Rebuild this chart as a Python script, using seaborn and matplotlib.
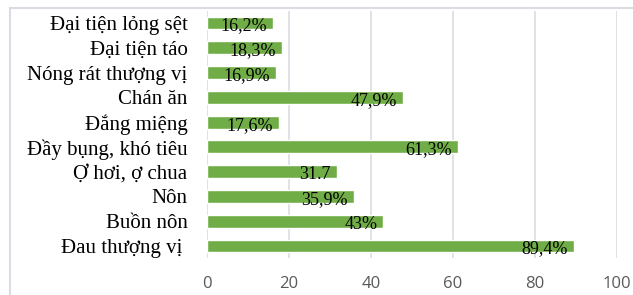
import pandas as pd
import seaborn as sns
import matplotlib.pyplot as plt
from matplotlib.patches import Rectangle

# symptoms, top to bottom as drawn
symptoms = ['Đại tiện lỏng sệt', 'Đại tiện táo', 'Nóng rát thượng vị', 'Chán ăn',
            'Đắng miệng', 'Đầy bụng, khó tiêu', 'Ợ hơi, ợ chua', 'Nôn',
            'Buồn nôn', 'Đau thượng vị ']
percent = [16.2, 18.3, 16.9, 47.9, 17.6, 61.3, 31.7, 35.9, 43, 89.4]
value_labels = ['16,2%', '18,3%', '16,9%', '47,9%', '17,6%', '61,3%', '31.7', '35,9%', '43%', '89,4%']
xticks = [0, 20, 40, 60, 80, 100]

df = pd.DataFrame({'symptom': symptoms, 'percent': percent})

sns.set_style('white')
plt.rcParams['font.family'] = ['Liberation Serif', 'DejaVu Serif']

fig = plt.figure(figsize=(6.33, 2.95), dpi=100)
ax = fig.add_axes([0.327, 0.124, 0.648, 0.840])

sns.barplot(data=df, x='percent', y='symptom', orient='h', color='#70AD47',
            saturation=1, width=0.52, ax=ax)

# value labels near the inside end of each bar
for i, (v, lab) in enumerate(zip(percent, value_labels)):
    ax.text(v - 1.5, i + 0.12, lab, ha='right', va='center', fontsize=13,
            color='black', family='Liberation Serif')

ax.set_xlim(0, 100)
ax.set_ylim(9.5, -0.5)
ax.set_xticks(xticks)
ax.set_xticklabels([str(t) for t in xticks], fontsize=12, color='#595959',
                   family='Open Sans')
ax.tick_params(axis='x', pad=13, length=0)
ax.tick_params(axis='y', length=0, pad=14, labelsize=15, labelcolor='black')
ax.set_xlabel('')
ax.set_ylabel('')
ax.xaxis.grid(True, color='#D9DDE3', linewidth=1.2)
ax.set_axisbelow(True)
for s in ax.spines.values():
    s.set_visible(False)

# light frame round the chart area
fig.patches.append(Rectangle((10 / 633, -0.02), 1.0, 1 - 8 / 295 + 0.02,
                             transform=fig.transFigure, fill=False,
                             edgecolor='#D9DDE3', linewidth=1.5))

fig.savefig('out.png', dpi=100)
